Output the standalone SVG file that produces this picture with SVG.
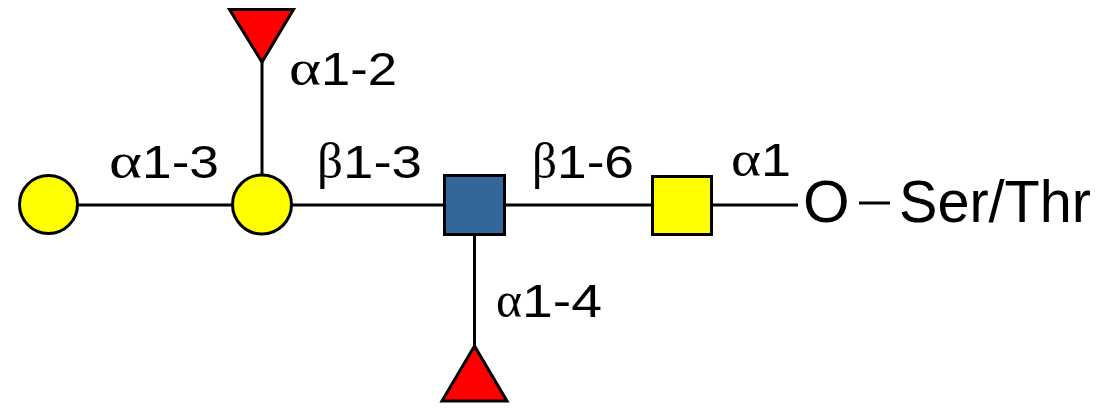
<svg xmlns="http://www.w3.org/2000/svg" width="1120" height="418" viewBox="0 0 1120 418">
<style>
.ln{stroke:#000;stroke-width:3;fill:none}
.sh{stroke:#000;stroke-width:3}
.gal{fill:#FFFF00}
.fuc{fill:#FF0000}
.glc{fill:#336699}
.gr{font-family:"Liberation Serif",serif;font-size:50px;fill:#000}
.lb{font-family:"Liberation Sans",Arial,sans-serif;font-size:47px;fill:#000}
.big{font-family:"Liberation Sans",Arial,sans-serif;font-size:60px;fill:#000}
</style>
<rect width="1120" height="418" fill="#fff"/>
<g id="connectors">
<line class="ln" x1="78" y1="205" x2="233" y2="205"/>
<line class="ln" x1="262" y1="62" x2="262" y2="176"/>
<line class="ln" x1="291" y1="205" x2="445" y2="205"/>
<line class="ln" x1="505" y1="205" x2="653" y2="205"/>
<line class="ln" x1="711" y1="205" x2="798" y2="205"/>
<line class="ln" x1="474.5" y1="234" x2="474.5" y2="347"/>
<line class="ln" x1="859" y1="203" x2="890" y2="203"/>
</g>
<g id="gal1"><circle class="sh gal" cx="48.5" cy="204.5" r="29"/></g>
<g id="gal2"><circle class="sh gal" cx="262" cy="204.5" r="29.5"/></g>
<g id="fuc1"><polygon class="sh fuc" points="229.5,9.5 293.5,9.5 262,62"/></g>
<g id="glcnac"><rect class="sh glc" x="444.5" y="175.5" width="60" height="59"/></g>
<g id="galnac"><rect class="sh gal" x="652.5" y="176.5" width="59" height="58"/></g>
<g id="fuc2"><polygon class="sh fuc" points="474.5,346 442,401 507,401"/></g>
<g id="labels">
<text class="gr" x="109" y="178" textLength="33" lengthAdjust="spacingAndGlyphs">α</text>
<text class="lb" x="142" y="178" textLength="77" lengthAdjust="spacingAndGlyphs">1-3</text>
<text class="gr" x="289" y="85" textLength="32" lengthAdjust="spacingAndGlyphs">α</text>
<text class="lb" x="321" y="85" textLength="76" lengthAdjust="spacingAndGlyphs">1-2</text>
<text class="gr" x="317" y="178" textLength="26" lengthAdjust="spacingAndGlyphs">β</text>
<text class="lb" x="343" y="178" textLength="79" lengthAdjust="spacingAndGlyphs">1-3</text>
<text class="gr" x="532" y="178" textLength="25" lengthAdjust="spacingAndGlyphs">β</text>
<text class="lb" x="557" y="178" textLength="77" lengthAdjust="spacingAndGlyphs">1-6</text>
<text class="gr" x="731" y="176" textLength="30" lengthAdjust="spacingAndGlyphs">α</text>
<text class="lb" x="761" y="176" textLength="30" lengthAdjust="spacingAndGlyphs">1</text>
<text class="gr" x="496" y="317" textLength="26" lengthAdjust="spacingAndGlyphs">α</text>
<text class="lb" x="522" y="317" textLength="80" lengthAdjust="spacingAndGlyphs">1-4</text>
<text class="big" x="803" y="222">O</text>
<text class="big" x="899" y="222" textLength="192" lengthAdjust="spacingAndGlyphs">Ser/Thr</text>
</g>
</svg>
